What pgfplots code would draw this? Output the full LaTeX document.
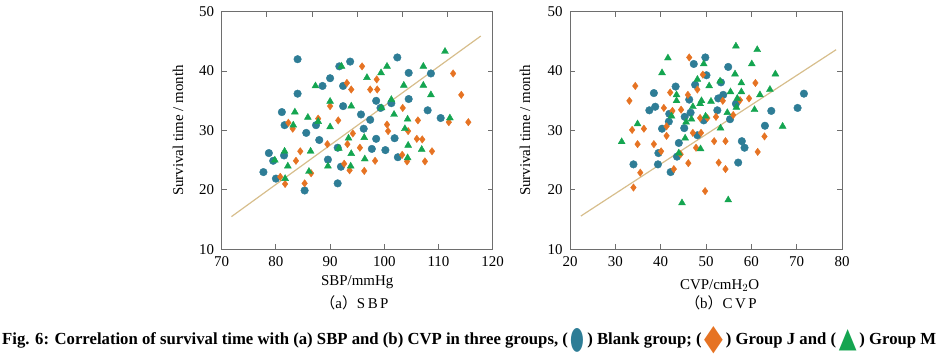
\documentclass[border=0pt]{standalone}
\usepackage{fontspec}
\setmainfont{Liberation Serif}
\newfontfamily\cjk{Noto Sans CJK SC}
\newfontfamily\sym{DejaVu Sans}
\usepackage{pgfplots}
\pgfplotsset{compat=1.18}
\definecolor{cblank}{RGB}{46,125,150}
\definecolor{cj}{RGB}{230,115,35}
\definecolor{cm}{RGB}{20,165,80}
\definecolor{creg}{RGB}{215,190,140}
\definecolor{axc}{RGB}{110,110,110}
\pgfplotsset{
 panel/.style={scale only axis, height=237.6bp, ymin=10, ymax=50, ytick={10,20,...,50},
   axis line style={axc, line width=0.9bp}, tick style={axc, line width=0.9bp},
   major tick length=5bp, tick align=inside,
   /pgf/number format/assume math mode=true,
   ticklabel style={font=\fontsize{15}{15}\selectfont},
   xticklabel style={yshift=-4bp}, yticklabel style={xshift=-4bp},
   label style={font=\fontsize{15}{16}\selectfont}, clip=false},
 blank/.style={only marks, mark=*, mark size=3.8bp, mark options={draw=cblank, fill=cblank}},
 gj/.style={only marks, mark=diamond*, mark size=3.7bp, mark options={draw=cj, fill=cj}},
 gm/.style={only marks, mark=triangle*, mark size=4bp, mark options={draw=cm, fill=cm}},
 reg/.style={creg, line width=1.2bp, no marks},
}
\begin{document}
\begin{tikzpicture}
\path[use as bounding box] (0,0) rectangle (940bp,359bp);
% ---------- left panel ----------
\begin{axis}[panel, at={(221.7bp,109.7bp)}, anchor=south west, width=271bp,
  xmin=70, xmax=120, xtick={70,80,...,120}, xtick pos=left,
  xlabel={SBP/mmHg}, ylabel={Survival time / month},
  xlabel style={at={(axis description cs:0.5,-0.138)}, anchor=center},
  ylabel style={at={(axis description cs:-0.161,0.5)}, anchor=center}]
\addplot[reg] coordinates {(71.8,15.5) (117.8,45.9)};
\addplot[blank] coordinates {
(84.0,42.0) (91.7,40.8) (93.7,41.6) (102.4,42.3) (104.5,39.7) (108.6,39.6)
(90.0,38.8) (88.6,37.5) (92.4,37.5) (84.0,36.2) (98.5,35.0) (104.5,35.3)
(101.3,34.6) (99.3,33.8) (92.4,34.1) (81.1,33.1) (95.7,32.7) (97.4,31.8)
(108.0,33.4) (110.4,32.1) (81.6,30.9) (87.4,30.9) (96.2,30.3) (85.6,29.6)
(88.0,28.4) (98.5,28.6) (101.9,28.7) (91.4,27.1) (97.7,26.9) (100.2,26.7)
(78.7,26.2) (81.5,25.8) (89.6,25.1) (102.5,25.5) (79.5,24.9) (92.0,23.9)
(77.7,23.0) (80.0,21.9) (85.3,19.9) (91.4,21.1)};
\addplot[gj] coordinates {
(95.9,40.8) (93.1,38.0) (98.6,38.6) (93.9,36.9) (97.4,36.9) (98.7,36.9)
(112.7,39.6) (114.2,36.0) (90.0,34.1) (103.4,33.8) (87.8,32.0) (82.3,31.3)
(83.1,30.3) (91.5,31.7) (100.5,31.0) (106.2,31.7) (111.9,31.4) (115.5,31.4)
(104.4,29.9) (100.7,29.9) (94.2,29.5) (89.5,27.7) (93.2,27.7) (95.5,27.1)
(106.0,28.6) (107.0,28.5) (108.8,26.5) (84.5,26.5) (83.7,24.9) (98.3,24.9)
(103.3,25.9) (104.2,24.8) (107.5,24.8) (92.6,24.4) (93.6,23.3) (96.3,23.2)
(86.5,22.8) (80.8,22.2) (81.7,21.0) (85.3,21.1)};
\addplot[gm] coordinates {
(111.2,43.3) (100.5,40.8) (107.2,40.8) (92.1,40.8) (99.4,39.7) (96.8,38.9)
(87.3,37.5) (103.6,37.6) (107.2,37.6) (108.6,36.0) (90.0,34.9) (93.9,34.1)
(101.3,35.2) (99.5,33.8) (83.5,33.1) (85.9,32.2) (101.8,32.7) (87.8,31.5)
(104.3,31.9) (112.1,32.1) (83.2,30.9) (90.0,30.6) (103.8,30.3) (93.4,28.7)
(96.3,28.8) (104.4,27.5) (91.6,27.0) (81.6,26.5) (86.4,26.5) (93.9,26.1)
(106.9,26.8) (79.8,25.0) (96.4,25.2) (104.3,25.4) (82.2,24.0) (89.6,24.0)
(93.8,24.0) (86.1,23.1) (81.7,21.9)};
\node[font=\fontsize{15}{16}\selectfont] at (axis description cs:0.49,-0.226) {{\cjk （}a{\cjk ）}S\,B\,P};
\end{axis}
% top ticks of the left panel (secondary axis)
\begin{axis}[scale only axis, at={(221.7bp,109.7bp)}, anchor=south west, width=271bp, height=237.6bp,
  xmin=0, xmax=6, ymin=0, ymax=1, xtick={1,...,5}, xticklabels={}, ytick=\empty,
  xtick pos=right, axis line style={draw=none}, tick style={axc, line width=0.9bp},
  major tick length=5bp, tick align=inside]
\end{axis}
% ---------- right panel ----------
\begin{axis}[panel, at={(570bp,109.7bp)}, anchor=south west, width=272bp,
  xmin=20, xmax=80, xtick={20,30,...,80},
  xlabel={CVP/cmH$_2$O}, ylabel={Survival time / month},
  xlabel style={at={(axis description cs:0.55,-0.154)}, anchor=center},
  ylabel style={at={(axis description cs:-0.165,0.5)}, anchor=center}]
\addplot[reg] coordinates {(22.4,15.6) (78.7,43.6)};
\addplot[blank] coordinates {
(49.85,42.3) (47.3,41.2) (50.1,39.3) (54.9,40.7) (43.3,37.4) (47.6,37.7)
(53.3,38.1) (38.5,36.3) (46.3,35.2) (52.7,35.4) (53.8,36.0) (56.6,34.5)
(71.6,36.2) (37.5,33.4) (38.8,34.0) (41.9,32.8) (46.6,33.0) (52.5,33.4)
(64.4,33.3) (70.2,33.8) (41.8,31.5) (45.3,32.3) (49.5,31.7) (55.3,31.9)
(40.3,30.3) (45.2,30.4) (63.0,30.8) (48.1,29.2) (44.0,27.9) (57.9,28.2)
(58.5,27.1) (39.5,26.2) (43.6,25.6) (34.0,24.3) (39.4,24.3) (57.1,24.6)
(42.2,23.0)};
\addplot[gj] coordinates {
(46.3,42.3) (49.3,39.4) (34.4,37.5) (42.1,36.4) (46.0,36.0) (48.1,36.9)
(60.9,38.0) (33.1,35.0) (53.7,35.0) (57.5,35.1) (59.5,35.4) (40.7,33.8)
(42.6,33.3) (44.5,33.5) (48.7,32.1) (50.3,32.1) (52.2,32.3) (56.0,32.6)
(33.7,30.1) (36.3,30.3) (41.3,30.7) (41.3,29.1) (47.1,29.6) (48.9,29.6)
(34.9,27.7) (38.5,27.7) (51.8,28.2) (54.3,28.2) (62.9,29.0) (47.8,27.1)
(40.1,26.5) (44.4,26.0) (61.4,26.4) (46.1,24.5) (52.8,24.6) (42.9,23.5)
(54.3,23.5) (35.5,22.9) (34.0,20.4) (49.8,19.8)};
\addplot[gm] coordinates {
(56.6,44.2) (61.3,43.6) (41.6,42.2) (49.5,41.2) (40.3,39.7) (60.1,41.2)
(56.4,39.5) (65.3,39.5) (48.1,38.6) (53.1,38.3) (57.8,38.0) (50.7,37.5)
(64.1,36.9) (43.5,36.0) (55.4,36.5) (57.8,36.5) (61.9,36.0) (43.5,35.0)
(49.0,35.0) (51.1,34.9) (56.9,35.4) (47.1,34.0) (48.7,34.5) (56.7,33.9)
(60.7,33.5) (54.7,33.0) (42.4,32.4) (49.9,32.4) (46.8,31.9) (45.6,31.4)
(34.9,31.1) (53.2,30.4) (66.9,30.7) (31.4,28.1) (45.4,28.7) (48.8,26.9)
(44.0,26.2) (44.7,17.8) (54.9,18.3)};
\node[font=\fontsize{15}{16}\selectfont] at (axis description cs:0.555,-0.226) {{\cjk （}b{\cjk ）}C\,V\,P};
\end{axis}
% ---------- caption ----------
\node[anchor=west, inner sep=0pt, font=\bfseries\fontsize{17}{18}\selectfont] at (2bp,19bp)
 {\resizebox{934bp}{\height}{Fig. 6: Correlation of survival time with (a) SBP and (b) CVP in three groups, (\,{\color{cblank}\raisebox{-4bp}{\resizebox{14bp}{20bp}{\sym ●}}}\,) Blank group; (\,{\color{cj}\raisebox{-5bp}{\resizebox{19bp}{23bp}{\sym ◆}}}\,) Group J and (\,{\color{cm}\raisebox{-3bp}{\resizebox{18bp}{18bp}{\sym ▲}}}\,) Group M}};
\end{tikzpicture}
\end{document}
